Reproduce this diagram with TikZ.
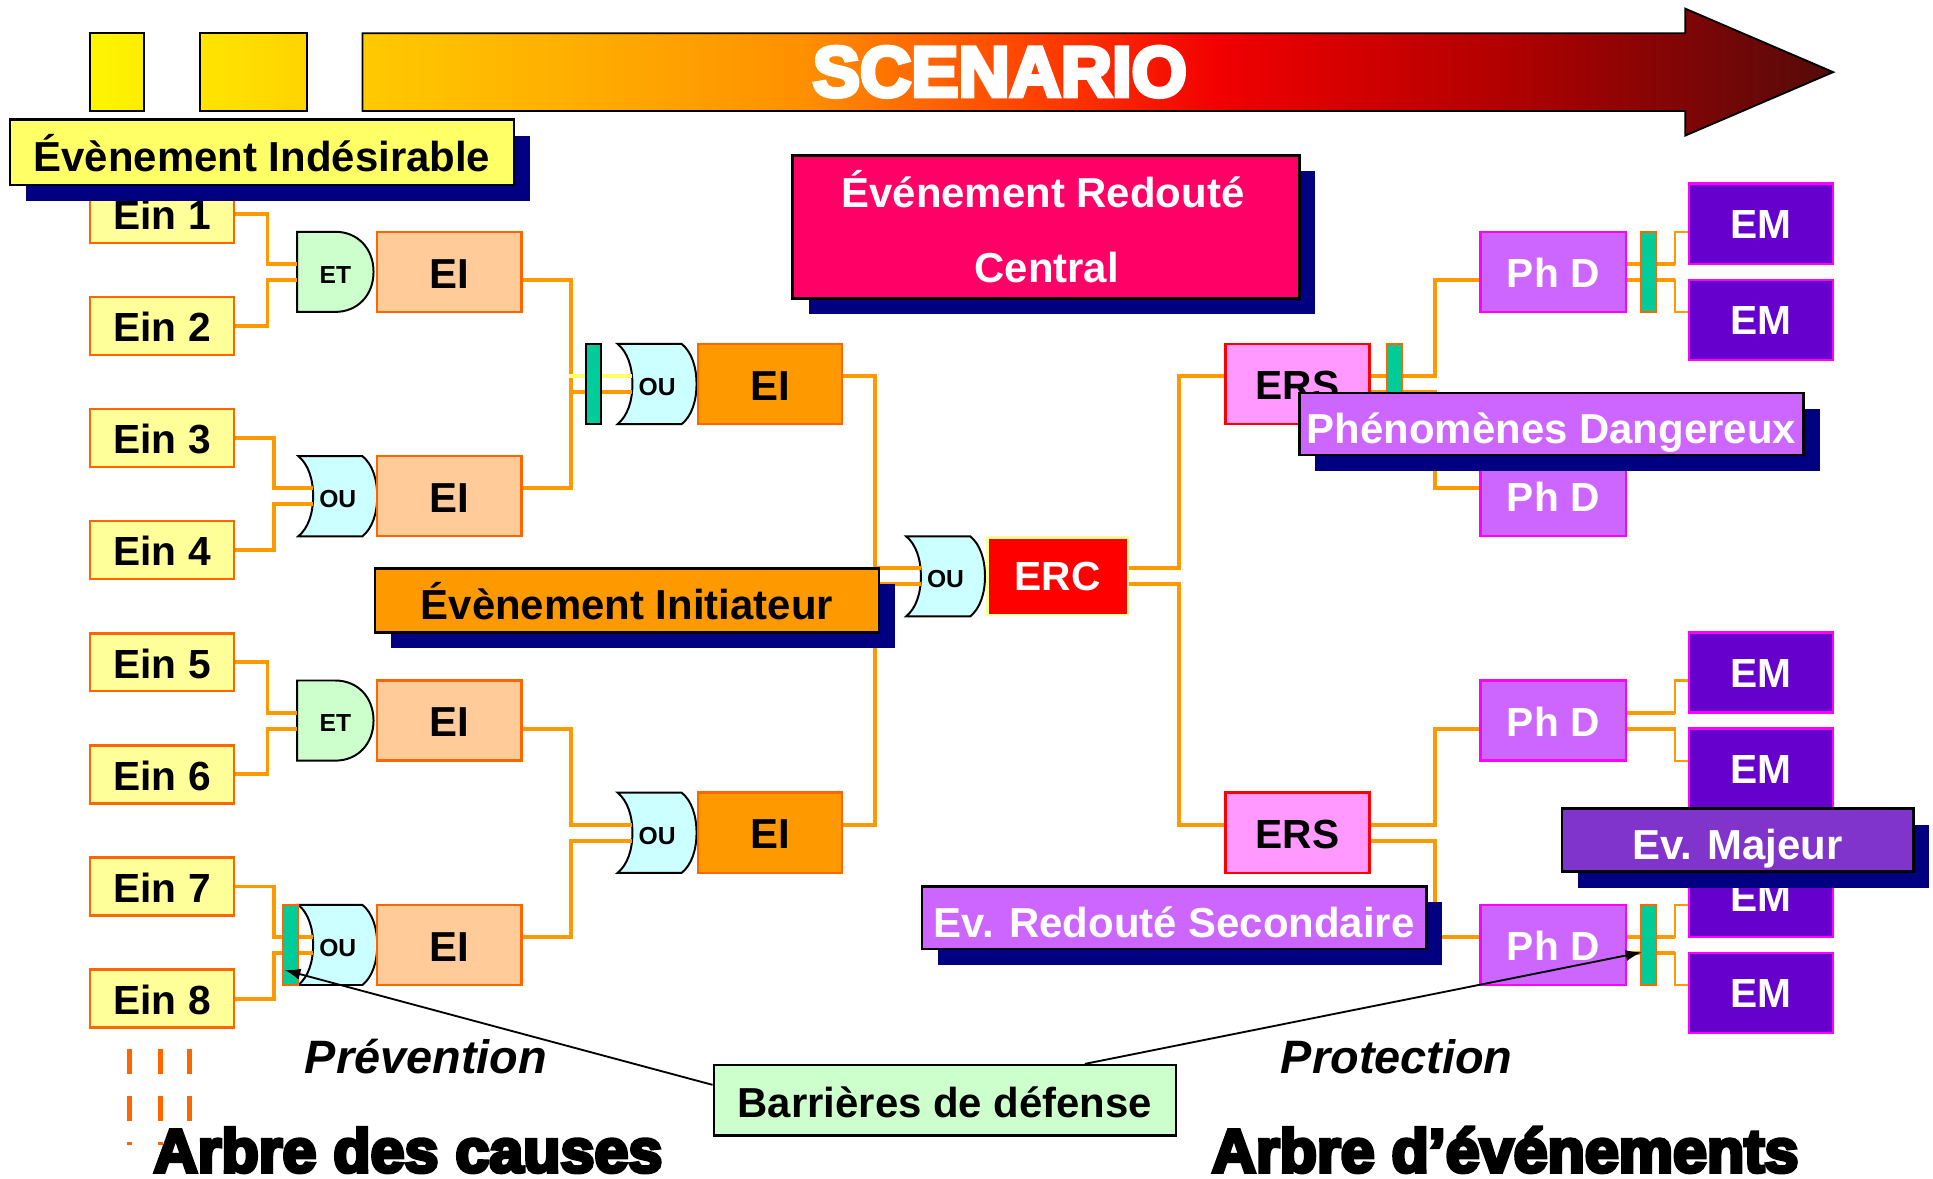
\documentclass[tikz,border=0pt]{standalone}
\usepackage{fontspec}
\setmainfont{Liberation Sans}
\newfontfamily\heavyfont[FakeBold=6]{Liberation Sans Bold}
\usetikzlibrary{arrows.meta,calc,shadows}

\definecolor{wire}{HTML}{FF9900}
\definecolor{edge}{HTML}{FF6600}
\definecolor{einfill}{HTML}{FFFF99}
\definecolor{eifill}{HTML}{FFCC99}
\definecolor{orangefill}{HTML}{FF9900}
\definecolor{etfill}{HTML}{CCFFCC}
\definecolor{oufill}{HTML}{CCFFFF}
\definecolor{barfill}{HTML}{00CC99}
\definecolor{ersfill}{HTML}{FF99FF}
\definecolor{phdfill}{HTML}{CC66FF}
\definecolor{emfill}{HTML}{6600CC}
\definecolor{magentaedge}{HTML}{FF00FF}
\definecolor{navyshadow}{HTML}{000080}
\definecolor{centralfill}{HTML}{FF0066}
\definecolor{majeurfill}{HTML}{8034CC}
\definecolor{labyellow}{HTML}{FFFF66}
\definecolor{yelline}{HTML}{FFFF66}
\definecolor{ercedge}{HTML}{FFFF99}
\definecolor{dashcol}{HTML}{FF6600}
\definecolor{ya}{HTML}{FFF500}
\definecolor{yb}{HTML}{FFEC00}
\definecolor{yc}{HTML}{FFE400}
\definecolor{yd}{HTML}{FFD400}
\definecolor{sc0}{HTML}{FFCA00}
\definecolor{sc1}{HTML}{FF9000}
\definecolor{sc2}{HTML}{FF3A00}
\definecolor{sc3}{HTML}{F20000}
\definecolor{sc4}{HTML}{B00000}
\definecolor{sc5}{HTML}{550A0A}
\pgfdeclarehorizontalshading{scen}{100bp}{color(0bp)=(sc0); color(25bp)=(sc0); color(40bp)=(sc1); color(48.5bp)=(sc2); color(54bp)=(sc3); color(64bp)=(sc4); color(75bp)=(sc5); color(100bp)=(sc5)}

\newcommand{\andgate}[4]{%
  \draw[gateline, fill=etfill] (#1,#2-32.5) -- (#1+31,#2-32.5) .. controls (#1+49,#2-32.5) and (#1+62,#2-19) .. (#1+62,#2) .. controls (#1+62,#2+19) and (#1+49,#2+32.5) .. (#1+31,#2+32.5) -- (#1,#2+32.5) -- cycle;
  \node[gatetext, minimum width=62pt] (#3) at (#1+31,#2) {#4};}
\newcommand{\orgate}[4]{%
  \draw[gateline, fill=oufill] (#1,#2-32.5) -- (#1+52,#2-32.5) .. controls (#1+60,#2-26) and (#1+64,#2-14) .. (#1+64,#2) .. controls (#1+64,#2+14) and (#1+60,#2+26) .. (#1+52,#2+32.5) -- (#1,#2+32.5) .. controls (#1+8,#2+26) and (#1+12,#2+14) .. (#1+12,#2) .. controls (#1+12,#2-14) and (#1+8,#2-26) .. (#1,#2-32.5) -- cycle;
  \node[gatetext, minimum width=64pt] (#3) at (#1+32,#2) {#4};}

\begin{document}
\begin{tikzpicture}[x=1pt,y=-1pt,
  wireline/.style={draw=wire, line width=3.2pt},
  thinwire/.style={draw=wire, line width=1.8pt},
  yellowwire/.style={draw=yelline, line width=3.2pt},
  gateline/.style={draw=black, line width=1.6pt},
  gatetext/.style={font=\fontsize{20}{20}\selectfont\bfseries, inner sep=0pt, minimum height=65pt, text height=18.3pt, text depth=0pt},
  basebox/.style={rectangle, inner sep=0pt, line width=2pt, text height=23.6pt, text depth=0pt, font=\fontsize{33}{33}\selectfont\bfseries},
  einbox/.style={basebox, draw=edge, fill=einfill, minimum width=117pt, minimum height=47pt, text height=25.6pt},
  eibox/.style={basebox, draw=edge, fill=eifill, minimum width=117pt, minimum height=65pt, font=\fontsize{34}{34}\selectfont\bfseries, text height=26.3pt},
  eiorange/.style={eibox, fill=orangefill},
  ercbox/.style={basebox, draw=ercedge, fill=red, text=white, minimum width=114pt, minimum height=63pt},
  ersbox/.style={basebox, draw=red, fill=ersfill, minimum width=117pt, minimum height=65pt, text height=25.6pt},
  phdbox/.style={basebox, draw=magentaedge, fill=phdfill, text=white, minimum width=118pt, minimum height=65pt, text height=25.6pt},
  embox/.style={basebox, draw=magentaedge, fill=emfill, text=white, minimum width=117pt, minimum height=65pt},
  barbox/.style={rectangle, inner sep=0pt, fill=barfill, draw=edge, line width=1.6pt, minimum width=12pt, minimum height=65pt},
  barblack/.style={barbox, draw=black},
  labelbox/.style={rectangle, inner sep=0pt, draw=black, line width=2pt, font=\fontsize{34}{34}\selectfont\bfseries, text height=31.3pt, text depth=0pt, drop shadow={shadow xshift=13pt, shadow yshift=-13pt, opacity=1, fill=navyshadow}},
  labeltext/.style={inner sep=0pt, font=\fontsize{34}{34}\selectfont\bfseries, text height=24.3pt, text depth=0pt},
  italictext/.style={inner sep=0pt, font=\fontsize{38}{38}\selectfont\bfseries\itshape, text height=27.2pt, text depth=0pt},
  heavytext/.style={inner sep=0pt, font=\fontsize{49.5}{49.5}\selectfont\heavyfont, text height=35.4pt, text depth=0pt},
  arrowline/.style={draw=black, line width=1.5pt, -{Latex[length=13pt,width=9pt]}},
  dashmark/.style={draw=dashcol, line width=4pt}
]
\useasboundingbox (0,0) rectangle (1568,955.6);

% ---------- scenario arrow ----------
\shadedraw[draw=black, line width=1.5pt, left color=ya, right color=yb] (73,27) rectangle (117,90);
\shadedraw[draw=black, line width=1.5pt, left color=yc, right color=yd] (162,27) rectangle (249,90);
\shadedraw[draw=black, line width=1.5pt, shading=scen] (294,27) -- (1367,27) -- (1367,7) -- (1487,58.5) -- (1367,110) -- (1367,90) -- (294,90) -- cycle;
\node[inner sep=0pt, text=white, font=\fontsize{57.5}{57.5}\selectfont\heavyfont, text height=41.2pt, text depth=0pt] (scenario) at (811,57.5) {SCENARIO};

% ---------- cause tree: leaves ----------
\node[einbox] (ein1) at (131.5,173.5) {Ein 1};
\node[einbox] (ein2) at (131.5,264.4) {Ein 2};
\node[einbox] (ein3) at (131.5,355.4) {Ein 3};
\node[einbox] (ein4) at (131.5,446.3) {Ein 4};
\node[einbox] (ein5) at (131.5,537.2) {Ein 5};
\node[einbox] (ein6) at (131.5,628.2) {Ein 6};
\node[einbox] (ein7) at (131.5,719.1) {Ein 7};
\node[einbox] (ein8) at (131.5,810) {Ein 8};

% ---------- gates ----------
\andgate{241}{220.5}{g1}{ET}
\orgate{242}{402.5}{g2}{OU}
\andgate{241}{584.5}{g3}{ET}
\orgate{242}{766.5}{g4}{OU}
\orgate{501}{311.5}{g5}{OU}
\orgate{501}{675.5}{g6}{OU}
\orgate{735}{467.5}{g7}{OU}

% ---------- boxes ----------
\node[eibox] (ei1) at (364.5,220.5) {EI};
\node[eibox] (ei2) at (364.5,402.5) {EI};
\node[eibox] (ei3) at (364.5,584.5) {EI};
\node[eibox] (ei4) at (364.5,766.5) {EI};
\node[eiorange] (ei5) at (624.5,311.5) {EI};
\node[eiorange] (ei6) at (624.5,675.5) {EI};
\node[ercbox] (erc) at (858,467.5) {ERC};
\node[ersbox] (ers1) at (1052.5,311.5) {ERS};
\node[ersbox] (ers2) at (1052.5,675.5) {ERS};
\node[phdbox] (phd1) at (1260,220.5) {Ph D};
\node[phdbox] (phd2) at (1260,402.5) {Ph D};
\node[phdbox] (phd3) at (1260,584.5) {Ph D};
\node[phdbox] (phd4) at (1260,766.5) {Ph D};
\node[embox] (em1) at (1428.5,181.5) {EM};
\node[embox] (em2) at (1428.5,259.5) {EM};
\node[embox] (em3) at (1428.5,545.5) {EM};
\node[embox] (em4) at (1428.5,623.5) {EM};
\node[embox] (em5) at (1428.5,727.5) {EM};
\node[embox] (em6) at (1428.5,805.5) {EM};

% ---------- connectors ----------
\draw[wireline] (ein1.east) -- ++(26,0) |- ($(g1.west)+(0,-6.5)$);
\draw[wireline] (ein2.east) -- ++(26,0) |- ($(g1.west)+(0,6.5)$);
\draw[wireline] (ein3.east) -- ++(31,0) |- ($(g2.west)+(12,-6.5)$);
\draw[wireline] (ein4.east) -- ++(31,0) |- ($(g2.west)+(12,6.5)$);
\draw[wireline] (ein5.east) -- ++(26,0) |- ($(g3.west)+(0,-6.5)$);
\draw[wireline] (ein6.east) -- ++(26,0) |- ($(g3.west)+(0,6.5)$);
\draw[wireline] (ein7.east) -- ++(31,0) |- ($(g4.west)+(12,-6.5)$);
\draw[wireline] (ein8.east) -- ++(31,0) |- ($(g4.west)+(12,6.5)$);

\draw[wireline] ($(ei1.east)+(0,6.5)$) -- ++(39,0) |- ($(g5.west)+(12,6.5)$);
\draw[wireline] ($(ei2.east)+(0,-6.5)$) -- ++(39,0) |- ($(g5.west)+(12,6.5)$);
\draw[yellowwire] ($(g5.west)+(-39,-6.5)$) -- ($(g5.west)+(12,-6.5)$);
\draw[wireline] ($(ei3.east)+(0,6.5)$) -- ++(39,0) |- ($(g6.west)+(12,-6.5)$);
\draw[wireline] ($(ei4.east)+(0,-6.5)$) -- ++(39,0) |- ($(g6.west)+(12,6.5)$);

\draw[wireline] ($(ei5.east)+(0,-6.5)$) -- ++(26,0) |- ($(g7.west)+(12,-6.5)$);
\draw[wireline] ($(ei6.east)+(0,-6.5)$) -- ++(26,0) |- ($(g7.west)+(12,6.5)$);

\draw[wireline] ($(erc.east)+(0,-6.5)$) -- ++(40,0) |- ($(ers1.west)+(0,-6.5)$);
\draw[wireline] ($(erc.east)+(0,6.5)$) -- ++(40,0) |- ($(ers2.west)+(0,-6.5)$);

\draw[wireline] ($(ers1.east)+(0,-6.5)$) -- ++(52,0) |- ($(phd1.west)+(0,6.5)$);
\draw[wireline] ($(ers1.east)+(0,6.5)$) -- ++(52,0) |- ($(phd2.west)+(0,-6.5)$);
\draw[wireline] ($(ers2.east)+(0,-6.5)$) -- ++(52,0) |- ($(phd3.west)+(0,6.5)$);
\draw[wireline] ($(ers2.east)+(0,6.5)$) -- ++(52,0) |- ($(phd4.west)+(0,-6.5)$);

\draw[thinwire] ($(phd1.east)+(0,-6.5)$) -- ++(39,0) |- ($(em1.west)+(0,6.5)$);
\draw[thinwire] ($(phd1.east)+(0,6.5)$) -- ++(39,0) |- ($(em2.west)+(0,-6.5)$);
\draw[thinwire] ($(phd3.east)+(0,-6.5)$) -- ++(39,0) |- ($(em3.west)+(0,6.5)$);
\draw[thinwire] ($(phd3.east)+(0,6.5)$) -- ++(39,0) |- ($(em4.west)+(0,-6.5)$);
\draw[thinwire] ($(phd4.east)+(0,-6.5)$) -- ++(39,0) |- ($(em5.west)+(0,6.5)$);
\draw[thinwire] ($(phd4.east)+(0,6.5)$) -- ++(39,0) |- ($(em6.west)+(0,-6.5)$);
\draw[wireline] ($(phd1.east)+(0,-6.5)$) -- ++(39,0);
\draw[wireline] ($(phd1.east)+(0,6.5)$) -- ++(39,0);
\draw[wireline] ($(phd3.east)+(0,-6.5)$) -- ++(39,0);
\draw[wireline] ($(phd3.east)+(0,6.5)$) -- ++(39,0);
\draw[wireline] ($(phd4.east)+(0,-6.5)$) -- ++(39,0);
\draw[wireline] ($(phd4.east)+(0,6.5)$) -- ++(39,0);

% ---------- barriers ----------
\node[barbox] (bar1) at (235.5,766.5) {};
\node[barblack] (bar2) at (481.5,311.5) {};
\node[barbox] (bar3) at (1131,311.5) {};
\node[barbox] (bar4) at (1337.5,220.5) {};
\node[barbox] (bar5) at (1337.5,766.5) {};

% ---------- labels ----------
\node[labelbox, fill=labyellow, minimum width=409pt, minimum height=53pt] (indes) at (212.5,123.5) {Évènement Indésirable};
\node[labelbox, fill=centralfill, minimum width=411pt, minimum height=116pt] (central) at (848.5,184) {};
\node[labeltext, text=white] (centralA) at (846,156) {Événement Redouté};
\node[labeltext, text=white] (centralB) at (849,217) {Central};
\node[labelbox, fill=orangefill, minimum width=409pt, minimum height=52pt] (init) at (508.5,487) {Évènement Initiateur};
\node[labelbox, fill=phdfill, text=white, minimum width=409pt, minimum height=50pt] (phen) at (1258.5,344) {Phénomènes Dangereux};
\node[labelbox, fill=majeurfill, text=white, minimum width=285pt, minimum height=51pt] (majeur) at (1409.5,681.5) {Ev. Majeur};
\node[labelbox, fill=phdfill, text=white, minimum width=409pt, minimum height=51pt] (second) at (952.5,744.5) {Ev. Redouté Secondaire};

% ---------- bottom ----------
\node[labeltext, draw=black, line width=2pt, fill=etfill, minimum width=375pt, minimum height=57pt, text height=27.3pt] (barr) at (766.5,892.5) {Barrières de défense};
\draw[arrowline] ($(barr.west)+(0,-12.5)$) -- ($(bar1.south west)+(2,-13)$);
\draw[arrowline] ($(barr.north)+(113.5,0)$) -- ($(bar5.west)+(1,6)$);

\node[italictext] (prev) at (345.5,857) {Prévention};
\node[italictext] (prot) at (1133,857) {Protection};
\node[heavytext] (arbre1) at (331,933) {Arbre des causes};
\node[heavytext] (arbre2) at (1221,933) {Arbre d’événements};

\draw[dashmark] (105,851) -- (105,871);
\draw[dashmark] (130,851) -- (130,871);
\draw[dashmark] (154,851) -- (154,871);
\draw[dashmark] (105,889) -- (105,909);
\draw[dashmark] (130,889) -- (130,909);
\draw[dashmark] (154,889) -- (154,909);
\draw[dashmark] (105,926) -- (105,929);
\draw[dashmark] (130,926) -- (130,929);
\end{tikzpicture}
\end{document}
